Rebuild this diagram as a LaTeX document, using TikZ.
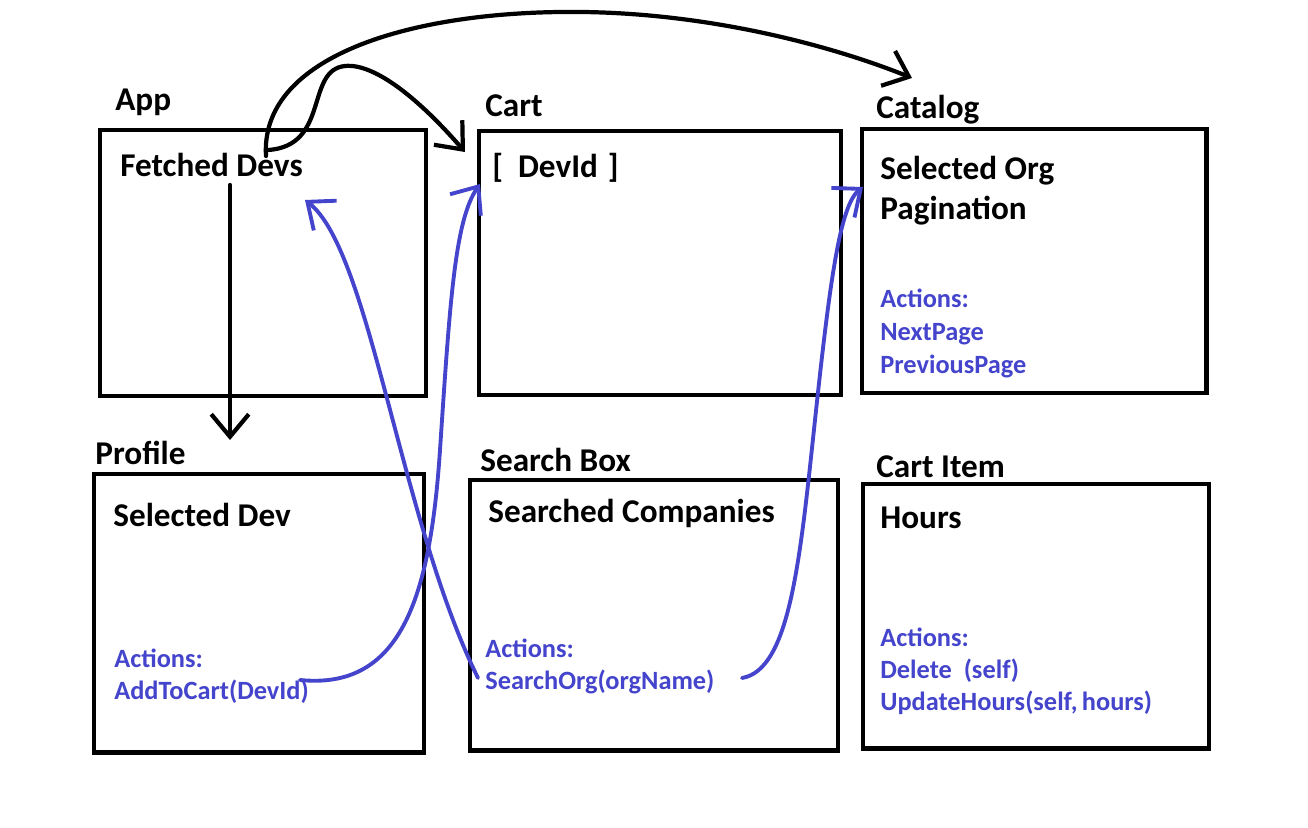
\documentclass[tikz,border=0pt]{standalone}
\usepackage{fontspec}
\setmainfont{Carlito}
\usetikzlibrary{arrows.meta}
\definecolor{actblue}{RGB}{68,68,204}

\begin{document}
\begin{tikzpicture}[x=0.02cm, y=-0.02cm,
		box/.style={draw, line width=2.3pt, inner sep=0pt},
		head/.style={anchor=base west, inner sep=0pt, font=\bfseries\fontsize{18.9}{22}\selectfont},
		act/.style={anchor=base west, inner sep=0pt, text=actblue, font=\bfseries\fontsize{15}{18}\selectfont},
		flow/.style={line width=2.4pt, line cap=round, -{Straight Barb[length=0.45cm, width=0.75cm]}},
		call/.style={actblue, line width=2.2pt, line cap=round, -{Straight Barb[length=0.45cm, width=0.75cm]}}]
		\useasboundingbox (0,0) rectangle (1308,828);
		
		% boxes
		\node[box, minimum width=6.52cm, minimum height=5.32cm] (app) at (263,263) {};
		\node[box, minimum width=7.26cm, minimum height=5.28cm] (cart) at (660,263) {};
		\node[box, minimum width=6.9cm, minimum height=5.3cm] (catalog) at (1034,261) {};
		\node[box, minimum width=6.6cm, minimum height=5.58cm] (profile) at (259,613) {};
		\node[box, minimum width=7.36cm, minimum height=5.42cm] (search) at (654,615) {};
		\node[box, minimum width=6.92cm, minimum height=5.3cm] (item) at (1036,616) {};
		
		% titles
		\node[head] (apptitle) at (115,111) {App};
		\node[head] (carttitle) at (485,116) {Cart};
		\node[head] (cattitle) at (876,118) {Catalog};
		\node[head] (proftitle) at (95,464) {Profile};
		\node[head] (searchtitle) at (480,471) {Search Box};
		\node[head] (itemtitle) at (876,477) {Cart Item};
		
		% state
		\node[head] (devs) at (120,176) {Fetched Devs};
		\node[head] (devid) at (492,177) {[\hspace{0.45em}DevId\hspace{0.3em}]};
		\node[head] (org) at (880,179) {Selected Org};
		\node[head] (pages) at (880,219) {Pagination};
		\node[head] (seldev) at (113,526) {Selected Dev};
		\node[head] (found) at (488,522) {Searched Companies};
		\node[head] (hours) at (880,528) {Hours};
		
		% actions
		\node[act] (catact) at (880,307) {Actions:};
		\node[act] (next) at (880,340) {NextPage};
		\node[act] (prev) at (880,373) {PreviousPage};
		\node[act] (profact) at (114,667) {Actions:};
		\node[act] (addcart) at (114,699) {AddToCart(DevId)};
		\node[act] (searchact) at (485,657) {Actions:};
		\node[act] (searchorg) at (485,689) {SearchOrg(orgName)};
		\node[act] (itemact) at (880,646) {Actions:};
		\node[act] (delete) at (880,678) {Delete\ \ (self)};
		\node[act] (update) at (880,710) {UpdateHours(self,\,hours)};
		
		% connector ends
		\coordinate (devsdown) at (230,185);
		\coordinate (devsup) at (268,150);
		\coordinate (devsarc) at (266,156);
		\coordinate (devsin) at (305,200);
		\coordinate (profin) at (230,440);
		\coordinate (cartin) at (465,152);
		\coordinate (catin) at (912,78);
		\coordinate (devidin) at (480,184);
		\coordinate (orgin) at (863,187);
		\coordinate (addout) at (300,680);
		\coordinate (orgnameL) at (478,678);
		\coordinate (orgnameR) at (742,678);
		
		\draw[flow] (devsdown) -- (profin);
		\draw[flow] (devsup) .. controls (330,146) and (305,70) .. (345,66) .. controls (375,63) and (420,100) .. (cartin);
		\draw[flow] (devsarc) .. controls (260,60) and (400,14) .. (560,12) .. controls (700,10) and (830,45) .. (catin);
		
		\draw[call] (addout) .. controls (400,690) and (430,600) .. (440,450) .. controls (450,300) and (455,220) .. (devidin);
		\draw[call] (orgnameL) .. controls (400,520) and (370,250) .. (devsin);
		\draw[call] (orgnameR) .. controls (790,670) and (800,560) .. (815,420) .. controls (830,280) and (840,205) .. (orgin);
		
	\end{tikzpicture}
\end{document}
